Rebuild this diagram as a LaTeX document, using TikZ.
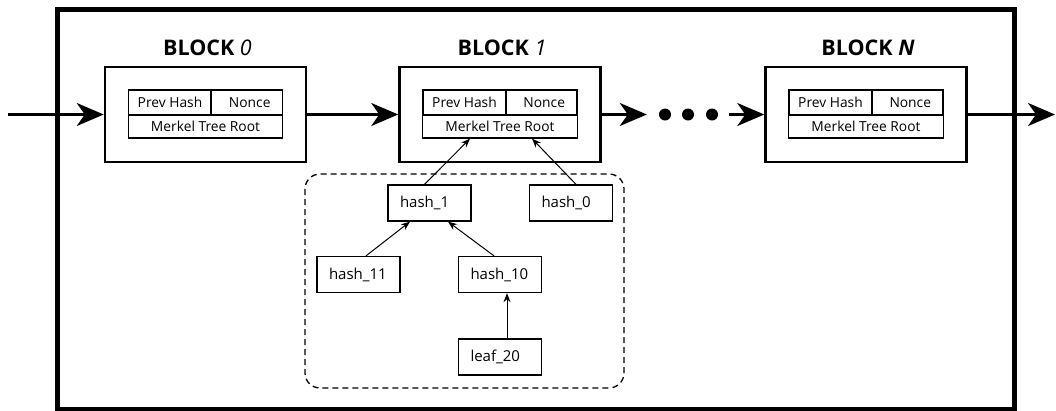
\documentclass[tikz,border=0pt]{standalone}
\usepackage{fontspec}
\setmainfont{Open Sans}
\usepackage{tikz}
\usetikzlibrary{arrows.meta, positioning, calc}

\tikzset{
  blockbox/.style={draw, line width=2.5pt, minimum width=201pt, minimum height=95pt},
  cellbox/.style={draw, line width=1.3pt, inner sep=0pt, font=\fontsize{13.8}{15}\selectfont},
  hashbox/.style={draw, line width=1.3pt, minimum width=83pt, minimum height=36pt, text width=59pt, align=left, inner sep=0pt, font=\fontsize{15}{17}\selectfont},
  blocktitle/.style={font=\fontsize{21.5}{23}\selectfont},
  chainarrow/.style={line width=2.5pt, -{Stealth[length=27pt, width=23pt, inset=8pt]}},
  treearrow/.style={line width=1pt, -{Stealth[length=9pt, width=7pt]}},
  chaindot/.style={circle, fill, inner sep=0pt, minimum size=12pt}
}

\begin{document}
\begin{tikzpicture}[x=1pt, y=-1pt]
    \useasboundingbox (0,0) rectangle (1056,410);
    % outer frame
    \draw[line width=5pt] (57,9.5) rectangle (1014,409);

    % the blocks of the chain
    \foreach \n/\cx/\num in {0/205.5/\textit{0}, 1/500/\textit{1}, N/866/\textit{\textbf{N}}} {
      \node[blockbox] (blk\n) at (\cx,114.5) {};
      \node[blocktitle] (title\n) at (\cx+2,48) {\textbf{BLOCK} \num};
      \node[cellbox, minimum width=83pt, minimum height=25pt] (prev\n) at (\cx-35.5,102.5) {Prev Hash};
      \node[cellbox, minimum width=71.5pt, minimum height=25pt] (nonce\n) at (\cx+41.25,102.5) {\hspace{6pt}Nonce};
      \node[cellbox, minimum width=154.5pt, minimum height=23pt] (root\n) at (\cx,126.5) {Merkel Tree Root};
    }

    % chain links
    \coordinate (chainin) at (8,114.5);
    \coordinate (chainout) at (1055,114.5);
    \node[chaindot] (dot1) at (665,114.5) {};
    \node[chaindot] (dot2) at (688,114.5) {};
    \node[chaindot] (dot3) at (712,114.5) {};
    \draw[chainarrow] (chainin) -- (blk0.west);
    \draw[chainarrow] (blk0.east) -- (blk1.west);
    \draw[chainarrow, shorten >=12pt] (blk1.east) -- (dot1.west);
    \draw[chainarrow, shorten <=11pt] (dot3.east) -- (blkN.west);
    \draw[chainarrow] (blkN.east) -- (chainout);

    % merkel tree of block 1
    \draw[line width=1.3pt, dash pattern=on 6pt off 4pt, rounded corners=15pt] (305,174) rectangle (624,388);
    \node[hashbox] (hash1) at (429.5,203) {hash\_1};
    \node[hashbox] (hash0) at (571,203) {hash\_0};
    \node[hashbox] (hash11) at (358.5,274.5) {hash\_11};
    \node[hashbox] (hash10) at (500,274.5) {hash\_10};
    \node[hashbox] (leaf20) at (500,357) {leaf\_20};

    \draw[treearrow] ([xshift=-5pt]hash1.north) -- ([xshift=-30pt]root1.south);
    \draw[treearrow] ([xshift=5pt]hash0.north) -- ([xshift=32pt]root1.south);
    \draw[treearrow] ([xshift=7.5pt]hash11.north) -- ([xshift=-19.5pt]hash1.south);
    \draw[treearrow] ([xshift=-6pt]hash10.north) -- ([xshift=18.5pt]hash1.south);
    \draw[treearrow] ([xshift=7pt]leaf20.north) -- ([xshift=7pt]hash10.south);
  \end{tikzpicture}
\end{document}
